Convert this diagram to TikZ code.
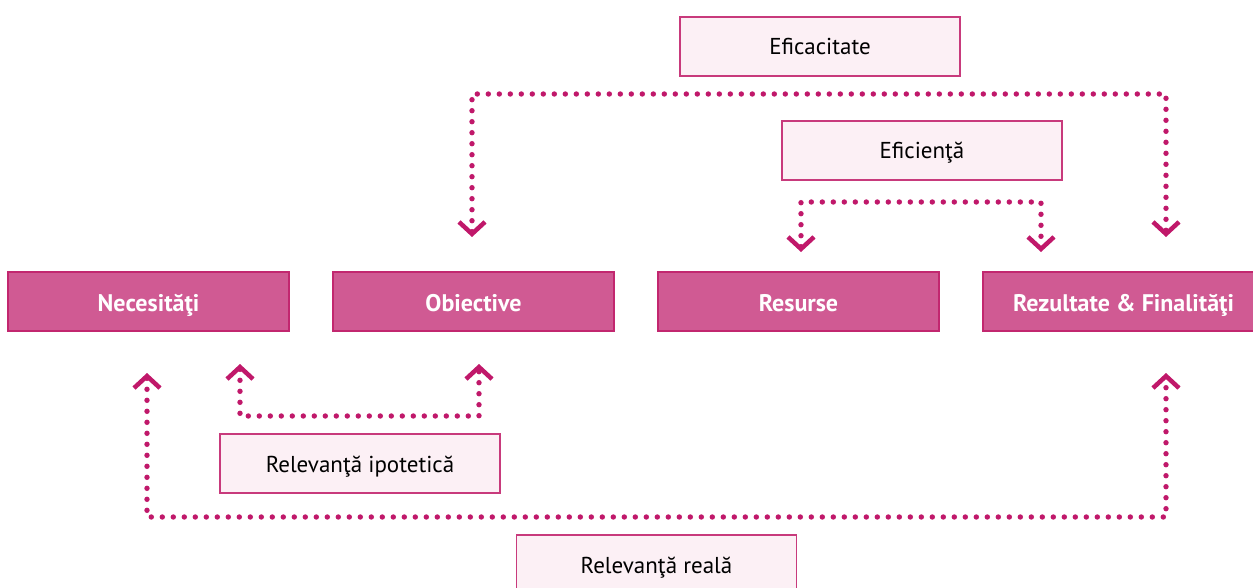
\documentclass[tikz,border=0pt]{standalone}
\usepackage{fontspec}
\setmainfont{PT Sans}
\usetikzlibrary{arrows.meta}
\definecolor{mainfill}{HTML}{D05A93}
\definecolor{mainedge}{HTML}{C2276F}
\definecolor{dotcol}{HTML}{C0186A}
\definecolor{lightfill}{HTML}{FCF0F5}
\definecolor{lightedge}{HTML}{C83A7C}
\begin{document}
\begin{tikzpicture}[x=1pt,y=-1pt,
  mainbox/.style={draw=mainedge, line width=1.5pt, fill=mainfill, text=white,
    font=\fontsize{24}{28}\selectfont\bfseries, minimum width=281pt, minimum height=59pt, inner sep=0pt,
    text height=20pt, text depth=0pt},
  labelbox/.style={draw=lightedge, line width=1.5pt, fill=lightfill, text=black,
    font=\fontsize{23}{27}\selectfont, minimum width=280pt, minimum height=59pt, inner sep=0pt,
    text height=18pt, text depth=1pt},
  dotline/.style={draw=dotcol, line width=5.4pt, line cap=round, dash pattern=on 0pt off 11pt,
    arrows={Straight Barb[length=12pt, width=26pt, line width=4.5pt]-Straight Barb[length=12pt, width=26pt, line width=4.5pt]}}
]
\useasboundingbox (0,0) rectangle (1253,588);

% main row
\node[mainbox] (nec) at (148.5,301.5) {Necesităţi};
\node[mainbox] (obi) at (473.5,301.5) {Obiective};
\node[mainbox] (res) at (798.5,301.5) {Resurse};
\node[mainbox] (rez) at (1123.5,301.5) {Rezultate \& Finalităţi};

% labels
\node[labelbox] (eficac) at (820,46.5) {Eficacitate};
\node[labelbox] (eficie) at (922,150.5) {Eficienţă};
\node[labelbox] (ipot) at (360,463.5) {Relevanţă ipotetică};
\node[labelbox] (reala) at (656.5,564.5) {Relevanţă reală};

% arrow ends
\coordinate (a1) at (472,237);
\coordinate (a2) at (1166,237);
\coordinate (b1) at (801,252);
\coordinate (b2) at (1041,252);
\coordinate (c1) at (240,364);
\coordinate (c2) at (479,364);
\coordinate (d1) at (147,373);
\coordinate (d2) at (1166,373);

% connectors
\draw[dotline] (a1) -- (472,94) -- (1166,94) -- (a2);
\draw[dotline] (b1) -- (801,202) -- (1041,202) -- (b2);
\draw[dotline] (c1) -- (240,416) -- (479,416) -- (c2);
\draw[dotline] (d1) -- (147,517) -- (1166,517) -- (d2);
\end{tikzpicture}
\end{document}
